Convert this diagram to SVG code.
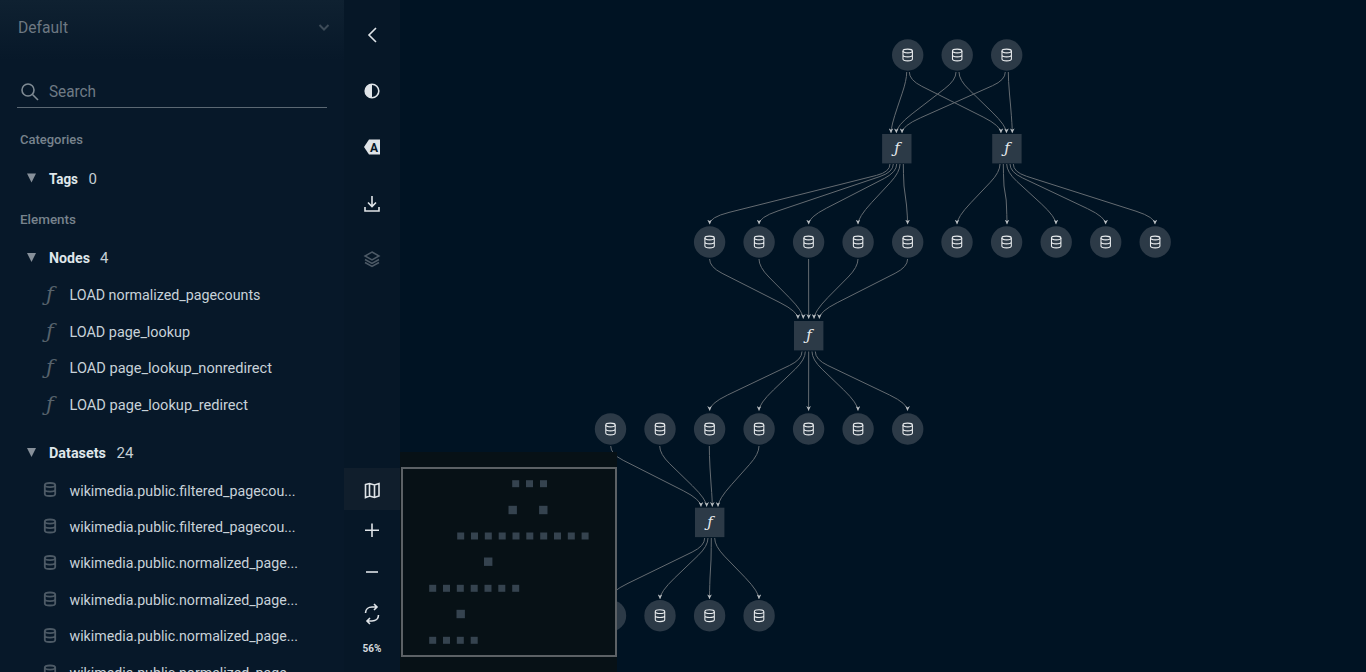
<svg xmlns="http://www.w3.org/2000/svg" width="1366" height="672" viewBox="0 0 1366 672">
<style>
text{font-family:"Roboto","Noto Sans",sans-serif}
.item{font-size:15px;fill:#c8d2d9}
.head{font-size:15px;font-weight:700;fill:#dfe6ea}
.count{font-size:15px;fill:#c5ced4}
.sec{font-size:13px;font-weight:500;fill:#77838d}
.fn{font-family:"DejaVu Serif",serif;font-style:italic}
.gf{font-size:15px;fill:#e6e9ec;text-anchor:middle}
.sf{font-size:21px;fill:#56626c;text-anchor:middle}
.dot{fill:#2c3a47}
.sq{fill:#35434f}
.edge{fill:none;stroke:#646b71;stroke-width:1;marker-end:url(#arrow)}
.ti{fill:none;stroke:#dfe4e8;stroke-width:1.6}
.sdb{fill:none;stroke:#4d5a66;stroke-width:1.4}
.ndb{fill:none;stroke:#e9ecee;stroke-width:.9}
.tri{fill:#87909a}
</style>
<defs>
<marker id="arrow" viewBox="0 0 10 10" refX="10" refY="5" markerWidth="4.6" markerHeight="4.6" markerUnits="userSpaceOnUse" orient="auto"><path d="M0 0L10 5L0 10L3 5Z" fill="#bcc1c5"/></marker>
<linearGradient id="top" x1="0" y1="0" x2="0" y2="1"><stop offset="0" stop-color="#0f2131"/><stop offset="1" stop-color="#071829"/></linearGradient>
<g id="db"><ellipse cy="-3.4" rx="4" ry="1.6"/><path d="M-4-3.4V3.4C-4 4.4-2 5 0 5S4 4.4 4 3.4V-3.4M-4 0C-4 1-2 1.6 0 1.6S4 1 4 0"/></g>
<g id="dn"><circle r="15.7" class="dot"/><use href="#db" class="ndb" transform="scale(1.18)"/></g>
<g id="fb"><rect x="-14.7" y="-14.7" width="29.4" height="29.4" class="dot"/></g>
</defs>
<rect width="1366" height="672" fill="#001323"/>

<g id="connectors">
<path class="edge" d="M906.7 72Q906.7 80 902.2 93.2L897.5 107.1Q891 126 891 133"/>
<path class="edge" d="M909.3 72Q909.3 80 921.8 86.3L983.1 117Q1001 126 1001 133"/>
<path class="edge" d="M956 72Q956 80 944.9 88.5L912.1 113.8Q896.3 126 896.3 133"/>
<path class="edge" d="M959 72Q959 80 969.1 89.7L992.1 112.1Q1006.5 126 1006.5 133"/>
<path class="edge" d="M1005.3 72Q1005.3 80 992.5 85.7L920.3 117.9Q902 126 902 133"/>
<path class="edge" d="M1008.3 72Q1008.3 80 1009.5 94L1010.6 106Q1012.3 126 1012.3 133"/>
<path class="edge" d="M890 164Q890 172 876.4 175.4L729 212.4Q709.6 217.3 709.6 224.3"/>
<path class="edge" d="M893.3 164Q893.3 172 880 176.5L778 210.9Q759 217.3 759 224.3"/>
<path class="edge" d="M896.7 164Q896.7 172 884.3 178.4L826.4 208.2Q808.6 217.3 808.6 224.3"/>
<path class="edge" d="M900 164Q900 172 890.5 182.3L871.6 202.6Q858 217.3 858 224.3"/>
<path class="edge" d="M903.3 164Q903.3 172 904 186L906.5 205Q907.6 217.3 907.6 224.3"/>
<path class="edge" d="M1000 164Q1000 172 990.4 182.2L970.8 202.8Q957 217.3 957 224.3"/>
<path class="edge" d="M1003.3 164Q1003.3 172 1004 186L1006.2 200Q1007 217.3 1007 224.3"/>
<path class="edge" d="M1006.7 164Q1006.7 172 1017 181.5L1041.3 203.8Q1056 217.3 1056 224.3"/>
<path class="edge" d="M1010 164Q1010 172 1022.7 178L1087.6 208.7Q1105.7 217.3 1105.7 224.3"/>
<path class="edge" d="M1013.3 164Q1013.3 172 1026.6 176.3L1136 211.2Q1155 217.3 1155 224.3"/>
<path class="edge" d="M709.6 259Q709.6 267 722.1 273.3L780.1 302.7Q798 311.7 798 318.7"/>
<path class="edge" d="M759 259Q759 267 768.9 277L789.2 297.5Q803.3 311.7 803.3 318.7"/>
<path class="edge" d="M808.6 259L808.7 318.7"/>
<path class="edge" d="M858 259Q858 267 848.2 277L828 297.4Q814 311.7 814 318.7"/>
<path class="edge" d="M907.6 259Q907.6 267 895.1 273.3L837.2 302.7Q819.3 311.7 819.3 318.7"/>
<path class="edge" d="M802 351.5Q802 359.5 789.4 365.5L727.6 395Q709.6 403.7 709.6 410.7"/>
<path class="edge" d="M805.3 351.5Q805.3 359.5 795.2 369.2L773.5 389.9Q759 403.7 759 410.7"/>
<path class="edge" d="M808.7 351.5L808.6 410.7"/>
<path class="edge" d="M812 351.5Q812 359.5 822.1 369.2L843.6 389.8Q858 403.7 858 410.7"/>
<path class="edge" d="M815.3 351.5Q815.3 359.5 827.9 365.5L889.6 395Q907.6 403.7 907.6 410.7"/>
<path class="edge" d="M610.7 446Q610.7 454 623.2 460.3L683.2 490.7Q701 499.7 701 506.7"/>
<path class="edge" d="M659.7 446Q659.7 454 669.8 463.8L692.3 485.7Q706.7 499.7 706.7 506.7"/>
<path class="edge" d="M709.3 446Q709.3 454 710 468L711.2 486Q712.3 499.7 712.3 506.7"/>
<path class="edge" d="M759 446Q759 454 749.6 464.4L731.4 484.8Q718 499.7 718 506.7"/>
<path class="edge" d="M704.7 538Q704.7 546 692.1 552.1L628 583.3Q610 592 610 599"/>
<path class="edge" d="M708 538Q708 546 697.9 555.7L674.4 578.2Q660 592 660 599"/>
<path class="edge" d="M711.3 538Q711.3 546 711 560L710 578Q709.5 592 709.5 599"/>
<path class="edge" d="M714.7 538Q714.7 546 724.4 556.1L745.2 577.6Q759 592 759 599"/>
</g>

<g id="nodes">
<g id="d1"><use href="#dn" x="907.7" y="55"/></g>
<g id="d2"><use href="#dn" x="957.2" y="55"/></g>
<g id="d3"><use href="#dn" x="1006.7" y="55"/></g>
<g id="f1"><use href="#fb" x="896.8" y="148.7"/><text class="fn gf" x="897" y="153">ƒ</text></g>
<g id="f2"><use href="#fb" x="1006.9" y="148.7"/><text class="fn gf" x="1007" y="153">ƒ</text></g>
<g id="d4"><use href="#dn" x="709.6" y="242"/></g>
<g id="d5"><use href="#dn" x="759.1" y="242"/></g>
<g id="d6"><use href="#dn" x="808.6" y="242"/></g>
<g id="d7"><use href="#dn" x="858.1" y="242"/></g>
<g id="d8"><use href="#dn" x="907.7" y="242"/></g>
<g id="d9"><use href="#dn" x="957" y="242"/></g>
<g id="d10"><use href="#dn" x="1006.6" y="242"/></g>
<g id="d11"><use href="#dn" x="1056.2" y="242"/></g>
<g id="d12"><use href="#dn" x="1105.7" y="242"/></g>
<g id="d13"><use href="#dn" x="1155.2" y="242"/></g>
<g id="f3"><use href="#fb" x="808.7" y="335.7"/><text class="fn gf" x="809" y="340">ƒ</text></g>
<g id="d14"><use href="#dn" x="610.5" y="429"/></g>
<g id="d15"><use href="#dn" x="660" y="429"/></g>
<g id="d16"><use href="#dn" x="709.6" y="429"/></g>
<g id="d17"><use href="#dn" x="759.1" y="429"/></g>
<g id="d18"><use href="#dn" x="808.6" y="429"/></g>
<g id="d19"><use href="#dn" x="858.1" y="429"/></g>
<g id="d20"><use href="#dn" x="907.7" y="429"/></g>
<g id="f4"><use href="#fb" x="709.7" y="522.4"/><text class="fn gf" x="710" y="527">ƒ</text></g>
<g id="d21"><use href="#dn" x="610.5" y="615.7"/></g>
<g id="d22"><use href="#dn" x="660" y="615.7"/></g>
<g id="d23"><use href="#dn" x="709.6" y="615.7"/></g>
<g id="d24"><use href="#dn" x="759.1" y="615.7"/></g>
</g>

<g id="minimap">
<rect x="400" y="452" width="217" height="220" fill="#071116"/>
<rect x="402" y="468" width="214" height="188" fill="none" stroke="#5c6165" stroke-width="2"/>
<g class="sq">
<rect x="512.2" y="480.2" width="7" height="7"/><rect x="526" y="480.2" width="7" height="7"/><rect x="540" y="480.2" width="7" height="7"/>
<rect x="508.5" y="505.8" width="8.4" height="8.4"/><rect x="539.1" y="505.8" width="8.4" height="8.4"/>
<rect x="457.2" y="532.5" width="7" height="7"/><rect x="471" y="532.5" width="7" height="7"/><rect x="484.8" y="532.5" width="7" height="7"/><rect x="498.7" y="532.5" width="7" height="7"/><rect x="512.5" y="532.5" width="7" height="7"/><rect x="526.3" y="532.5" width="7" height="7"/><rect x="540.2" y="532.5" width="7" height="7"/><rect x="554" y="532.5" width="7" height="7"/><rect x="567.8" y="532.5" width="7" height="7"/><rect x="581.6" y="532.5" width="7" height="7"/>
<rect x="484" y="557.5" width="8.4" height="8.4"/>
<rect x="429.2" y="584.8" width="7" height="7"/><rect x="443" y="584.8" width="7" height="7"/><rect x="456.8" y="584.8" width="7" height="7"/><rect x="470.7" y="584.8" width="7" height="7"/><rect x="484.5" y="584.8" width="7" height="7"/><rect x="498.3" y="584.8" width="7" height="7"/><rect x="512.2" y="584.8" width="7" height="7"/>
<rect x="456.5" y="609.8" width="8.4" height="8.4"/>
<rect x="429.2" y="636.8" width="7" height="7"/><rect x="443" y="636.8" width="7" height="7"/><rect x="456.8" y="636.8" width="7" height="7"/><rect x="470.7" y="636.8" width="7" height="7"/>
</g>
</g>

<g id="toolbar">
<rect x="344" y="0" width="56" height="672" fill="#061727"/>
<rect x="344" y="468" width="56" height="42" fill="#101e2c"/>
<path class="ti" d="M376 28L369 35L376 42"/>
<circle class="ti" cx="372" cy="91" r="6.8"/><path d="M372 84.2A6.8 6.8 0 0 0 372 97.8Z" fill="#dfe4e8"/>
<path d="M369 139.5H380V154.5H369L364 147Z" fill="#dfe4e8"/><text x="374" y="152" font-size="12" font-weight="700" text-anchor="middle" fill="#061727">A</text>
<path class="ti" d="M372 196V206M368 202.5L372 206.5L376 202.5M365 207V211H379V207"/>
<path d="M372 252L379 256L372 260L365 256ZM365 259.5L372 263.5L379 259.5M365 262.5L372 266.5L379 262.5" fill="none" stroke="#4d5a66" stroke-width="1.5"/>
<path class="ti" d="M365.5 484.5L369.5 483.5L374.5 485L379 483.5V496L374.5 497.5L369.5 496L365.5 497.5ZM369.5 483.5V496M374.5 485V497.5"/>
<path class="ti" d="M372 523.5V537M365 530.2H379"/>
<path class="ti" d="M366 572H378"/>
<path class="ti" stroke-width="2" d="M365.5 613C365.5 609 368.5 607 372 607H376M374 604L377 607L374 610M378.5 615C378.5 619 375.5 621 372 621H368M370 618L367 621L370 624"/>
<text x="372" y="652" font-size="10" font-weight="700" text-anchor="middle" fill="#d5dade">56%</text>
</g>

<g id="sidebar">
<rect x="0" y="0" width="344" height="672" fill="#071829"/>
<rect x="0" y="0" width="344" height="60" fill="url(#top)"/>
<text x="18" y="33" font-size="16" fill="#6d7882" textLength="50" lengthAdjust="spacingAndGlyphs">Default</text>
<path d="M319.5 25L324 29.5L328.5 25" fill="none" stroke="#3d4b58" stroke-width="2"/>
<circle cx="28" cy="90" r="6" fill="none" stroke="#7f8a93" stroke-width="1.6"/><path d="M32.5 94.5L38 100" stroke="#7f8a93" stroke-width="1.6"/>
<text x="49" y="97" font-size="16" fill="#6f7b85" textLength="47" lengthAdjust="spacingAndGlyphs">Search</text>
<path d="M17 107.5H327" stroke="#5b6873" stroke-width="1"/>
<text class="sec" x="20" y="144" textLength="63" lengthAdjust="spacingAndGlyphs">Categories</text>
<path class="tri" d="M27 173.5H36L31.5 182.5Z"/>
<text class="head" x="49" y="184" textLength="29" lengthAdjust="spacingAndGlyphs">Tags</text>
<text class="count" x="88.5" y="184">0</text>
<text class="sec" x="20" y="224" textLength="56" lengthAdjust="spacingAndGlyphs">Elements</text>
<path class="tri" d="M27 253H36L31.5 262Z"/>
<text class="head" x="49" y="263" textLength="41" lengthAdjust="spacingAndGlyphs">Nodes</text>
<text class="count" x="100" y="263">4</text>
<text class="fn sf" x="50" y="301">ƒ</text><text class="item" x="69.5" y="300" textLength="191" lengthAdjust="spacingAndGlyphs">LOAD normalized_pagecounts</text>
<text class="fn sf" x="50" y="338">ƒ</text><text class="item" x="69.5" y="336.7" textLength="120.5" lengthAdjust="spacingAndGlyphs">LOAD page_lookup</text>
<text class="fn sf" x="50" y="374">ƒ</text><text class="item" x="69.5" y="373" textLength="202.5" lengthAdjust="spacingAndGlyphs">LOAD page_lookup_nonredirect</text>
<text class="fn sf" x="50" y="411">ƒ</text><text class="item" x="69.5" y="409.6" textLength="178.5" lengthAdjust="spacingAndGlyphs">LOAD page_lookup_redirect</text>
<path class="tri" d="M27 448H36L31.5 457Z"/>
<text class="head" x="49" y="458" textLength="57" lengthAdjust="spacingAndGlyphs">Datasets</text>
<text class="count" x="116.5" y="458" textLength="17" lengthAdjust="spacingAndGlyphs">24</text>
<g class="sdb" transform="translate(50 489.5) scale(1.3)"><use href="#db"/></g><text class="item" x="69.5" y="495.6" textLength="226" lengthAdjust="spacingAndGlyphs">wikimedia.public.filtered_pagecou...</text>
<g class="sdb" transform="translate(50 526) scale(1.3)"><use href="#db"/></g><text class="item" x="69.5" y="532" textLength="226" lengthAdjust="spacingAndGlyphs">wikimedia.public.filtered_pagecou...</text>
<g class="sdb" transform="translate(50 562.5) scale(1.3)"><use href="#db"/></g><text class="item" x="69.5" y="568" textLength="228.5" lengthAdjust="spacingAndGlyphs">wikimedia.public.normalized_page...</text>
<g class="sdb" transform="translate(50 599) scale(1.3)"><use href="#db"/></g><text class="item" x="69.5" y="605" textLength="228.5" lengthAdjust="spacingAndGlyphs">wikimedia.public.normalized_page...</text>
<g class="sdb" transform="translate(50 635.5) scale(1.3)"><use href="#db"/></g><text class="item" x="69.5" y="641" textLength="228.5" lengthAdjust="spacingAndGlyphs">wikimedia.public.normalized_page...</text>
<g class="sdb" transform="translate(50 672) scale(1.3)"><use href="#db"/></g><text class="item" x="69.5" y="677.5" textLength="228.5" lengthAdjust="spacingAndGlyphs">wikimedia.public.normalized_page...</text>
</g>
</svg>
